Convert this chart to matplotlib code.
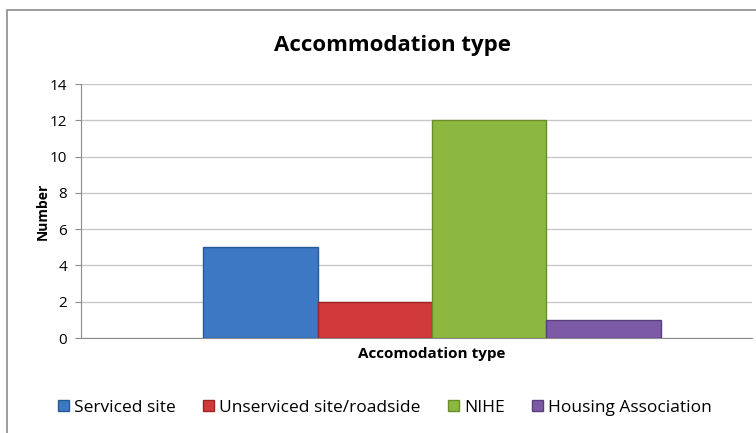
import matplotlib.pyplot as plt
from matplotlib.patches import Rectangle, Patch

categories = ['Serviced site', 'Unserviced site/roadside', 'NIHE', 'Housing Association']
values = [5, 2, 12, 1]
colors = ['#3c78c3', '#d2393a', '#8db83f', '#7d5aa6']
edges = ['#2a5a96', '#9e2426', '#6a8c2a', '#5a3f80']
y_ticks = [0, 2, 4, 6, 8, 10, 12, 14]

plt.rcParams['font.family'] = ['Open Sans', 'DejaVu Sans']

fig = plt.figure(figsize=(7.56, 4.33), dpi=100)

# outer chart frame (partly cut off at the right and bottom)
fig.patches.append(Rectangle((7 / 756, -0.1), 1.2, 1 - 10 / 433 + 0.1,
                             transform=fig.transFigure, fill=False,
                             edgecolor='#8c8c8c', linewidth=1.2))

ax = fig.add_axes([81 / 756, 1 - 338 / 433, 671 / 756, 254 / 433])

xs = range(len(categories))
for x, v, c, e in zip(xs, values, colors, edges):
    ax.bar(x, v, width=1.0, color=c, edgecolor=e, linewidth=1.0, zorder=3)

ax.set_xlim(-1.566, 4.295)
ax.set_ylim(0, 14)
ax.set_yticks(y_ticks)
ax.tick_params(axis='y', labelsize=11, length=4, color='#8c8c8c', pad=6)
ax.set_xticks([])
ax.grid(axis='y', color='#c8c8c8', linewidth=1.0, zorder=0)

for s in ['top', 'right']:
    ax.spines[s].set_visible(False)
ax.spines['left'].set_color('#8c8c8c')
ax.spines['bottom'].set_color('#8c8c8c')

ax.set_ylabel('Number', fontsize=10, fontweight='bold', labelpad=0)
fig.text(432 / 756, 1 - 354 / 433, 'Accomodation type', ha='center', va='center',
         fontsize=11, fontweight='bold')
fig.text(392 / 756, 1 - 46 / 433, 'Accommodation type', ha='center', va='center',
         fontsize=16, fontweight='bold')

handles = [Patch(facecolor=c, edgecolor=e) for c, e in zip(colors, edges)]
fig.legend(handles, categories, loc='center', bbox_to_anchor=(385 / 756, 1 - 408 / 433),
           ncol=4, frameon=False, fontsize=12.5, handlelength=0.6, handleheight=0.6,
           handletextpad=0.3, columnspacing=1.6)

fig.savefig('out.png', dpi=100)
